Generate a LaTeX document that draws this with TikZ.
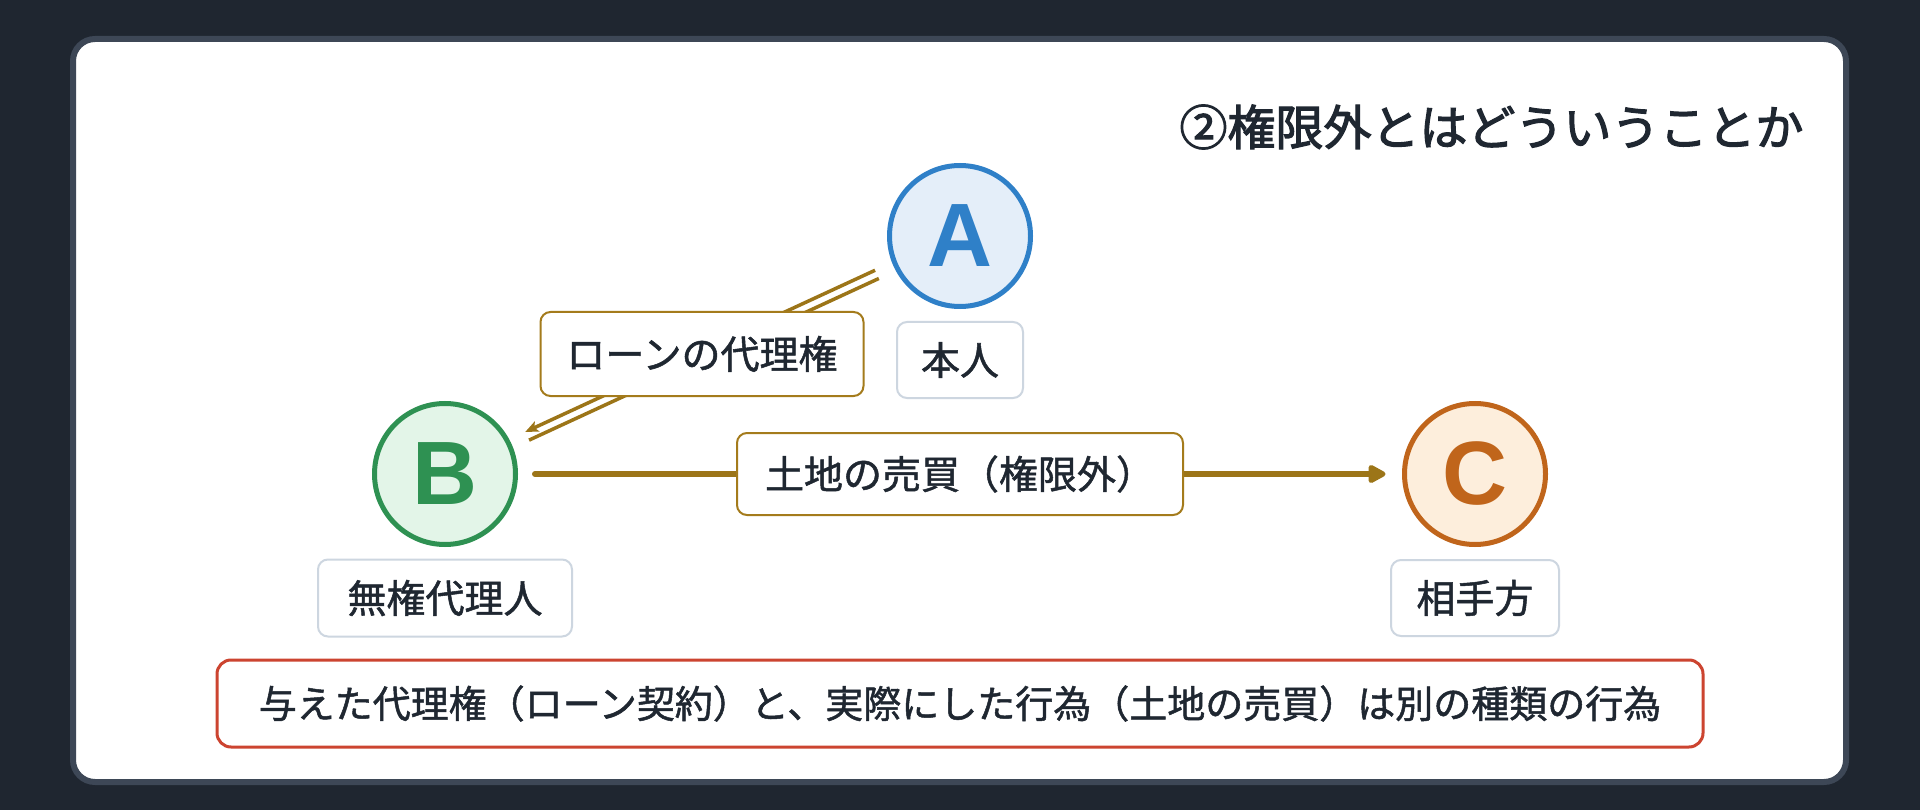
\documentclass[tikz,border=0pt]{standalone}
\usepackage{fontspec}
\setmainfont{Noto Sans CJK JP}[FakeBold=1.3]
\newfontfamily\titlefont{Noto Sans CJK JP}[FakeBold=2.4]
\newfontfamily\letterfont{Liberation Sans}
\usetikzlibrary{arrows.meta}
\definecolor{bgdark}{HTML}{1F2630}
\definecolor{panelborder}{HTML}{3D4756}
\definecolor{txt}{HTML}{1F2731}
\definecolor{ablue}{HTML}{2F80C8}
\definecolor{abluefill}{HTML}{E4EEF9}
\definecolor{bgreen}{HTML}{2E9152}
\definecolor{bgreenfill}{HTML}{E3F5E8}
\definecolor{corange}{HTML}{C0651B}
\definecolor{corangefill}{HTML}{FDEEDC}
\definecolor{gold}{HTML}{9C7518}
\definecolor{goldborder}{HTML}{A47B1C}
\definecolor{redborder}{HTML}{CC4430}
\definecolor{grayborder}{HTML}{CDD6E0}
\tikzset{
  party/.style={circle,line width=5pt,minimum size=141pt,inner sep=0pt,
    font=\letterfont\bfseries\fontsize{90}{90}\selectfont},
  rolebox/.style={draw=grayborder,fill=white,line width=2pt,rounded corners=10pt,inner sep=0pt,
    text=txt,font=\fontsize{39}{46}\selectfont},
  actbox/.style={draw=goldborder,fill=white,line width=2pt,rounded corners=10pt,inner sep=0pt,
    text=txt,font=\fontsize{39}{46}\selectfont},
  notebox/.style={draw=redborder,fill=white,line width=3pt,rounded corners=14pt,inner sep=0pt,
    text=txt,font=\fontsize{38}{44}\selectfont},
  goldline/.style={draw=gold,line width=3.5pt},
}
\begin{document}
\begin{tikzpicture}[x=1pt,y=-1pt]
\useasboundingbox (0,0) rectangle (1920,810);
\fill[bgdark] (0,0) rectangle (1920,810);
\draw[draw=panelborder,fill=white,line width=6pt,rounded corners=22pt] (73,39) rectangle (1846,782);

\node[anchor=east,text=txt,font=\titlefont\fontsize{48}{54}\selectfont] (title) at (1807,127) {②権限外とはどういうことか};

% parties
\node[party,draw=ablue,fill=abluefill,text=ablue] (A) at (960,236) {A};
\node[party,draw=bgreen,fill=bgreenfill,text=bgreen] (B) at (445,474) {B};
\node[party,draw=corange,fill=corangefill,text=corange] (C) at (1475,474) {C};

% role labels
\node[rolebox,minimum width=126pt,minimum height=76pt] (Alabel) at (960,360) {本人};
\node[rolebox,minimum width=254pt,minimum height=77pt] (Blabel) at (445,598) {無権代理人};
\node[rolebox,minimum width=168pt,minimum height=76pt] (Clabel) at (1475,598) {相手方};

% double line A -> B (authority of agency)
\draw[goldline,shorten <=18.5pt,shorten >=17.5pt,transform canvas={shift={(-1.9,-4.1)}},
  -{Stealth[length=13pt,width=11pt,inset=3pt]}] (A) -- (B);
\draw[goldline,shorten <=18.5pt,shorten >=17.5pt,transform canvas={shift={(1.9,4.1)}}] (A) -- (B);

% arrow B -> C
\draw[draw=gold,line width=6pt,line cap=round,shorten <=17pt,shorten >=16.5pt,
  -{Triangle[length=20pt,width=20pt,round]}] (B) -- (C);

% action labels
\node[actbox,minimum width=323pt,minimum height=84pt] (loan) at (702,354) {ローンの代理権};
\node[actbox,minimum width=446pt,minimum height=82pt] (sale) at (960,474) {土地の売買（権限外）};

% note
\node[notebox,minimum width=1486pt,minimum height=87pt] (note) at (960,703.5)
  {与えた代理権（ローン契約）と、実際にした行為（土地の売買）は別の種類の行為};
\end{tikzpicture}
\end{document}
